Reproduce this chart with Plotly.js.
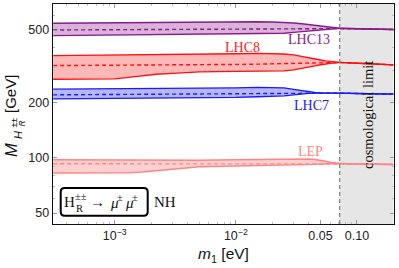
<!DOCTYPE html>
<html><head><meta charset="utf-8">
<script src="https://cdn.plot.ly/plotly-3.0.1.min.js"></script>
<style>html,body{margin:0;padding:0;background:#fff}#chart{width:399px;height:268px}</style>
</head><body><div id="chart"></div>
<script>
// lightest neutrino mass m1 [eV]
const m1 = [3.1e-4, 1e-3, 1.3e-3, 1.7e-3, 2.2e-3, 3e-3, 5e-3, 1e-2, 1.5e-2, 2e-2, 2.5e-2, 3e-2, 3.5e-2, 4e-2, 4.5e-2, 5e-2, 5.5e-2, 6e-2, 6.5e-2, 7.2e-2, 0.1, 0.15, 0.2];

// LHC13 band [GeV]
const lhc13Upper = [544, 548, 549, 549.5, 550, 552, 553, 554, 555, 553, 551, 546, 541, 535, 529, 524, 519, 516, 513, 511, 508, 505, 503];
const lhc13Lower = [466, 469, 469.5, 470, 470.5, 472, 474, 474.5, 476, 478, 480, 485, 490, 494, 498, 502, 505, 508, 510, 511, 508, 505, 503];
const lhc13Center = [500, 501, 501, 501, 502, 502, 503, 504, 505, 506, 506, 507, 507, 508, 508, 509, 509, 510, 510, 511, 508, 505, 503];

// LHC8 band [GeV]
const lhc8Upper = [362, 364, 364.5, 365.4, 366, 367.4, 368.6, 371, 372.4, 372.4, 370, 365.4, 359.5, 354, 348.8, 343, 338.8, 335.9, 333.8, 332.5, 329.2, 325.1, 322.3];
const lhc8Lower = [269.3, 270.3, 275.4, 282.4, 286.8, 289.6, 295.1, 297, 297.7, 297.7, 298.9, 302.6, 307.6, 313.1, 318.3, 323.1, 326.4, 328.8, 330.4, 332.5, 329.2, 325.1, 322.3];
const lhc8Center = [319.5, 320.3, 320.5, 320.8, 321, 321.5, 322.3, 324.3, 325.3, 326.4, 327, 327.6, 328.4, 329, 329.8, 330.4, 331, 331.5, 332, 332.5, 329.2, 325.1, 322.3];

// LHC7 band [GeV]
const lhc7Upper = [237.5, 238.4, 238.7, 239, 239.6, 239.9, 240.5, 241.4, 242.9, 242.9, 241.4, 236.9, 232.5, 229.6, 227.6, 226.8, 226.5, 226.2, 225.9, 225.9, 225.0, 223.9, 223.1];
const lhc7Lower = [210.2, 211.0, 211.0, 211.3, 211.6, 211.8, 212.1, 214.2, 216.0, 217.0, 218.3, 221.1, 223.9, 225.3, 225.9, 226.2, 226.2, 226.2, 225.9, 225.9, 225.0, 223.9, 223.1];
const lhc7Center = [221.1, 221.7, 222, 222, 222.3, 222.5, 223.1, 223.6, 223.9, 224.5, 224.8, 225.0, 225.3, 225.6, 225.9, 226.2, 226.2, 226.2, 225.9, 225.9, 225.0, 223.9, 223.1];

// LEP band [GeV]
const lepUpper = [97.7, 97.3, 97.3, 97.2, 97.2, 97.1, 97.1, 97.7, 98.1, 98.3, 98.6, 98.7, 98.7, 98.6, 97.95, 97.1, 95.9, 94.7, 93.7, 93.2, 92.7, 92.3, 92.1];
const lepLower = [82.7, 82.7, 83.0, 83.8, 85.1, 87.3, 89.5, 90.3, 90.6, 90.85, 91.2, 91.4, 91.8, 92.0, 92.2, 92.5, 92.7, 92.9, 93.0, 93.2, 92.7, 92.3, 92.1];
const lepCenter = [92.9, 92.9, 92.9, 92.9, 92.9, 92.9, 92.9, 92.9, 92.9, 92.9, 92.9, 92.9, 92.9, 92.9, 92.9, 92.9, 92.9, 93.0, 93.0, 93.2, 92.7, 92.3, 92.1];

const cosmoLimit = 0.072;
const xMax = 0.2;

const xTickVals = [1e-3, 1e-2, 0.05, 0.1];
const xTickText = ['10<sup>−3</sup>', '10<sup>−2</sup>', '0.05', '0.10'];
const yTickVals = [50, 100, 200, 500];
const yTickText = ['50', '100', '200', '500'];

const bands = [
  {up: lepUpper, lo: lepLower, c: lepCenter, line: '#ff8585', fill: 'rgba(255,200,200,0.85)'},
  {up: lhc7Upper, lo: lhc7Lower, c: lhc7Center, line: '#1a1aff', fill: 'rgba(175,175,255,0.9)'},
  {up: lhc8Upper, lo: lhc8Lower, c: lhc8Center, line: '#ff1010', fill: 'rgba(255,180,180,0.95)'},
  {up: lhc13Upper, lo: lhc13Lower, c: lhc13Center, line: '#8b1a8b', fill: 'rgba(215,175,215,0.95)'}
];

const traces = [];
bands.forEach(b => {
  traces.push({x: m1, y: b.lo, type: 'scatter', mode: 'lines', line: {color: b.line, width: 1.4}, hoverinfo: 'skip', showlegend: false});
  traces.push({x: m1, y: b.up, type: 'scatter', mode: 'lines', fill: 'tonexty', fillcolor: b.fill, line: {color: b.line, width: 1.4}, hoverinfo: 'skip', showlegend: false});
  traces.push({x: m1, y: b.c, type: 'scatter', mode: 'lines', line: {color: b.line, width: 1.4, dash: '4px,3px'}, hoverinfo: 'skip', showlegend: false});
});

function roundRect(x0, y0, x1, y1, rx, ry) {
  return `M ${x0+rx},${y1} L ${x1-rx},${y1} Q ${x1},${y1} ${x1},${y1-ry} L ${x1},${y0+ry} Q ${x1},${y0} ${x1-rx},${y0} L ${x0+rx},${y0} Q ${x0},${y0} ${x0},${y0+ry} L ${x0},${y1-ry} Q ${x0},${y1} ${x0+rx},${y1} Z`;
}

const serif = 'Liberation Serif';
const sans = 'Liberation Sans';

const minorX = [];
[1e-4, 1e-3, 1e-2, 1e-1].forEach(d => { for (let k = 2; k <= 9; k++) minorX.push(d * k); });
const minorY = [];
[10, 100].forEach(d => { for (let k = 2; k <= 9; k++) minorY.push(d * k); });

function lab(x, y, text, size, color, family, extra) {
  return Object.assign({xref: 'paper', yref: 'paper', x: x, y: y, text: text, showarrow: false,
    borderpad: 0, borderwidth: 0, xanchor: 'center', yanchor: 'middle',
    font: {family: family, size: size, color: color}}, extra || {});
}
const L = {xanchor: 'left'};
const R90 = {textangle: -90};

const layout = {
  width: 399, height: 268,
  margin: {l: 53, r: 5, t: 4, b: 44},
  paper_bgcolor: '#fff', plot_bgcolor: '#fff',
  xaxis: {
    type: 'log', range: [-3.51, -0.694],
    tickmode: 'array', tickvals: xTickVals, ticktext: xTickText,
    ticks: 'inside', ticklen: 4, tickcolor: '#999',
    minor: {tickmode: 'array', tickvals: minorX, ticks: 'inside', ticklen: 2, tickcolor: '#bbb', showgrid: false},
    showgrid: false, zeroline: false,
    showline: true, linecolor: '#111', linewidth: 1.3, mirror: 'ticks',
    tickfont: {family: sans, size: 12.5, color: '#222'},
    title: {text: '<i>m</i><sub>1</sub> [eV]', font: {family: sans, size: 15.5, color: '#111'}, standoff: 6}
  },
  yaxis: {
    type: 'log', range: [1.639, 2.841],
    tickmode: 'array', tickvals: yTickVals, ticktext: yTickText,
    ticks: 'inside', ticklen: 4, tickcolor: '#999',
    minor: {tickmode: 'array', tickvals: minorY, ticks: 'inside', ticklen: 2, tickcolor: '#bbb', showgrid: false},
    showgrid: false, zeroline: false,
    showline: true, linecolor: '#111', linewidth: 1.3, mirror: 'ticks',
    tickfont: {family: sans, size: 12.5, color: '#222'}
  },
  shapes: [
    {type: 'rect', xref: 'x', yref: 'paper', x0: cosmoLimit, x1: xMax, y0: 0, y1: 1, fillcolor: '#e6e6e6', line: {width: 0}, layer: 'below'},
    {type: 'line', xref: 'x', yref: 'paper', x0: cosmoLimit, x1: cosmoLimit, y0: 0, y1: 1, line: {color: '#888', width: 1.3, dash: '4px,3px'}, layer: 'above'},
    {type: 'path', xref: 'paper', yref: 'paper', path: roundRect(0.0226, 0.0377, 0.2777, 0.1636, 0.0117, 0.0182), line: {color: '#000', width: 2}, fillcolor: '#fff'}
  ],
  annotations: [
    lab(0.7507, 0.8364, 'LHC13', 14, '#8b1a8b', serif),
    lab(0.5543, 0.8, 'LHC8', 14, '#ff1a1a', serif),
    lab(0.7581, 0.5364, 'LHC7', 14, '#1a1aff', serif),
    lab(0.7537, 0.3318, 'LEP', 14, '#ff8585', serif),
    lab(0.9238, 0.4955, 'cosmological limit', 14.5, '#111', serif, R90),
    // box: H_R^{±±} → μ^± μ^±
    lab(0.0323, 0.1, 'H', 15, '#111', serif, L),
    lab(0.0645, 0.125, '±±', 10.5, '#111', serif, L),
    lab(0.066, 0.0727, 'R', 10.5, '#111', serif, L),
    lab(0.1085, 0.1, '→', 15, '#111', serif, L),
    lab(0.1657, 0.0955, '<i>μ</i>', 15, '#111', serif, L),
    lab(0.1877, 0.1227, '±', 10.5, '#111', serif, L),
    lab(0.2097, 0.0955, '<i>μ</i>', 15, '#111', serif, L),
    lab(0.2331, 0.1227, '±', 10.5, '#111', serif, L),
    lab(0.2962, 0.1, 'NH', 15, '#111', serif, L),
    // y-axis title: M_{H_R^{±±}} [GeV]
    lab(-0.1232, 0.3364, '<i>M</i>', 16.5, '#111', sans, R90),
    lab(-0.1026, 0.4045, '<i>H</i>', 11, '#111', sans, R90),
    lab(-0.1158, 0.4591, '±±', 8.5, '#111', sans, R90),
    lab(-0.0938, 0.4568, '<i>R</i>', 8.5, '#111', sans, R90),
    lab(-0.1246, 0.5886, '[GeV]', 15, '#111', sans, R90)
  ]
};

Plotly.newPlot('chart', traces, layout, {staticPlot: true, displayModeBar: false});
</script>
</body></html>
